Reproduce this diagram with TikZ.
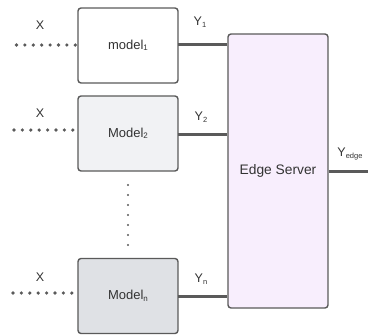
\documentclass[tikz,border=0pt]{standalone}
\usepackage{fontspec}
\setmainfont{Liberation Sans}
\definecolor{edgeline}{HTML}{5A5A5A}
\definecolor{txt}{HTML}{333333}
\definecolor{fillA}{HTML}{FFFFFF}
\definecolor{fillB}{HTML}{F1F2F4}
\definecolor{fillC}{HTML}{DFE1E5}
\definecolor{fillS}{HTML}{F8EEFD}
\begin{document}
\begin{tikzpicture}[x=1pt,y=-1pt,
  modelbox/.style={draw=edgeline,line width=1.4pt,rounded corners=3pt,
    minimum width=100pt,minimum height=75pt,inner sep=0pt,
    font=\fontsize{13}{15}\selectfont,text=txt},
  lbl/.style={font=\fontsize{12.5}{14}\selectfont,text=txt,inner sep=0pt},
  wire/.style={draw=edgeline,line width=3pt},
  dotline/.style={draw=edgeline,line width=3.6pt,line cap=round,dash pattern=on 0pt off 8.4pt},
  vdots/.style={draw=edgeline,line width=2.4pt,line cap=round,dash pattern=on 0pt off 10pt}]
\useasboundingbox (0,0) rectangle (368,335);

% model boxes
\node[modelbox,fill=fillA] (m1) at (128,45.5) {model\raisebox{-1.5pt}{\fontsize{8}{9}\selectfont 1}};
\node[modelbox,fill=fillB] (m2) at (128,133.5) {Model\raisebox{-1.5pt}{\fontsize{8}{9}\selectfont 2}};
\node[modelbox,fill=fillC] (mn) at (128,296) {Model\raisebox{-1.5pt}{\fontsize{8}{9}\selectfont n}};

% edge server
\node[modelbox,fill=fillS,minimum height=274pt,font=\fontsize{13.8}{16}\selectfont] (es) at (278,171) {Edge Server};

% inputs
\coordinate (x1) at (16.5,45);
\coordinate (x2) at (14,130);
\coordinate (xn) at (13,293);
\draw[dotline] (x1) -- (m1.west |- x1);
\draw[dotline] (x2) -- (m2.west |- x2);
\draw[dotline] (xn) -- (mn.west |- xn);
\node[lbl] (lx1) at (40,25) {X};
\node[lbl] (lx2) at (40,113) {X};
\node[lbl] (lxn) at (40,277) {X};

% outputs into the server
\coordinate (y1) at (178,44);
\coordinate (y2) at (178,134);
\coordinate (yn) at (178,296);
\draw[wire] (y1) -- (y1 -| es.west);
\draw[wire] (y2) -- (y2 -| es.west);
\draw[wire] (yn) -- (yn -| es.west);
\node[lbl] (ly1) at (200,22) {Y\raisebox{-1.5pt}{\fontsize{7.5}{8}\selectfont 1}};
\node[lbl] (ly2) at (201,117) {Y\raisebox{-1.5pt}{\fontsize{7.5}{8}\selectfont 2}};
\node[lbl] (lyn) at (201,279) {Y\raisebox{-1.5pt}{\fontsize{7.5}{8}\selectfont n}};

% server output
\coordinate (out) at (368,171);
\draw[wire] (es.east) -- (out);
\node[lbl] (lye) at (350,154) {Y\raisebox{-1.5pt}{\fontsize{7.5}{8}\selectfont edge}};

% ellipsis between the models
\coordinate (d1) at (128,185);
\coordinate (d2) at (128,246);
\draw[vdots] (d1) -- (d2);
\end{tikzpicture}
\end{document}
